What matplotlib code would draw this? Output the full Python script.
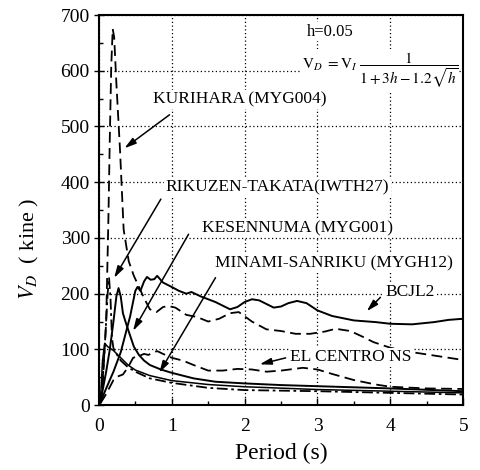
import numpy as np
import matplotlib.pyplot as plt

plt.rcParams['font.family'] = ['Liberation Serif', 'DejaVu Serif']
plt.rcParams['mathtext.fontset'] = 'stix'

# Velocity spectra (period s, V_D kine)

kurihara_t = [0.02, 0.05, 0.1, 0.13, 0.15, 0.17, 0.19, 0.21, 0.24, 0.29, 0.34, 0.41, 0.48,
              0.54, 0.62, 0.7, 0.79, 0.88, 0.95, 1.05, 1.2, 1.35, 1.5, 1.65, 1.8, 1.92,
              2.1, 2.3, 2.5, 2.7, 2.9, 3.1, 3.25, 3.45, 3.6, 3.77, 4.0, 4.3, 4.6, 5.0]
kurihara_v = [5, 30, 150, 330, 480, 610, 675, 660, 578, 458, 315, 258, 232,
              215, 192, 172, 167, 176, 178, 175, 162, 158, 150, 155, 165, 167,
              150, 136, 133, 128, 128, 132, 137, 133, 124, 113, 103, 95, 89, 81]

rikuzen_t = [0.02, 0.06, 0.1, 0.12, 0.14, 0.16, 0.18, 0.2, 0.25, 0.3, 0.4, 0.5, 0.7,
             1.0, 1.5, 2.0, 2.5, 3.0, 4.0, 5.0]
rikuzen_v = [5, 60, 150, 200, 228, 190, 120, 102, 90, 80, 68, 60, 48,
             40, 31, 27, 26, 25, 22, 19]

kesennuma_t = [0.02, 0.1, 0.15, 0.2, 0.24, 0.27, 0.3, 0.33, 0.36, 0.41, 0.48, 0.55, 0.62,
               0.7, 0.85, 1.0, 1.3, 1.6, 2.0, 2.5, 3.0, 4.0, 5.0]
kesennuma_v = [5, 60, 100, 150, 195, 210, 195, 165, 152, 132, 105, 90, 80,
               72, 64, 58, 48, 42, 39, 36, 34, 30, 25]

minami_t = [0.02, 0.05, 0.08, 0.12, 0.2, 0.3, 0.4, 0.5, 0.7, 1.0, 1.5, 2.0, 3.0, 4.0, 5.0]
minami_v = [5, 80, 111, 105, 98, 85, 72, 63, 53, 44, 37, 33, 28, 25, 22]

bcjl2_t = [0.02, 0.1, 0.2, 0.3, 0.36, 0.43, 0.5, 0.53, 0.57, 0.62, 0.66, 0.71, 0.76,
           0.8, 0.88, 1.0, 1.1, 1.2, 1.27, 1.4, 1.6, 1.8, 1.9, 2.0, 2.1, 2.2, 2.4,
           2.5, 2.6, 2.72, 2.85, 3.0, 3.2, 3.5, 3.8, 4.0, 4.3, 4.6, 4.8, 5.0]
bcjl2_v = [5, 30, 60, 95, 125, 160, 205, 212, 205, 222, 230, 225, 226,
           232, 220, 212, 205, 200, 203, 195, 185, 172, 176, 185, 190, 188, 175,
           177, 183, 187, 183, 170, 160, 152, 149, 146, 145, 149, 153, 155]

elcentro_t = [0.02, 0.1, 0.2, 0.27, 0.33, 0.4, 0.47, 0.55, 0.62, 0.68, 0.73, 0.8, 0.88,
              1.0, 1.15, 1.3, 1.5, 1.7, 1.9, 2.1, 2.3, 2.5, 2.8, 3.0, 3.2, 3.5, 3.8,
              4.0, 4.5, 5.0]
elcentro_v = [3, 20, 45, 52, 55, 68, 85, 88, 92, 90, 94, 97, 92,
              85, 80, 72, 62, 62, 65, 64, 60, 62, 67, 64, 56, 45, 37,
              33, 30, 29]

fig = plt.figure(figsize=(4.8, 4.7), dpi=100)
ax = fig.add_axes([0.206, 0.138, 0.759, 0.830])

ax.plot(kurihara_t, kurihara_v, color='k', lw=1.3, ls=(0, (6, 3)))
ax.plot(rikuzen_t, rikuzen_v, color='k', lw=1.3, ls=(0, (6, 2, 1.5, 2)))
ax.plot(kesennuma_t, kesennuma_v, color='k', lw=1.4)
ax.plot(minami_t, minami_v, color='k', lw=1.1)
ax.plot(bcjl2_t, bcjl2_v, color='k', lw=1.4)
ax.plot(elcentro_t, elcentro_v, color='k', lw=1.3, ls=(0, (6, 3)))

ax.set_xlim(0, 5)
ax.set_ylim(0, 700)
ax.set_xticks(np.arange(0, 6, 1))
ax.set_xticks(np.arange(0, 5.01, 0.5), minor=True)
ax.set_yticks(np.arange(0, 701, 100))
ax.set_yticks(np.arange(0, 701, 50), minor=True)
ax.tick_params(which='both', direction='in', labelsize=14, width=1)
ax.tick_params(which='major', length=5)
ax.tick_params(which='minor', length=3)
ax.tick_params(axis='y', which='major', direction='inout', length=7, pad=3)
ax.tick_params(axis='x', pad=9)
ax.grid(True, which='major', color='k', lw=0.9, ls=(0, (1, 2)))
for s in ax.spines.values():
    s.set_linewidth(1.5)

ax.set_xlabel('Period (s)', fontsize=17, labelpad=6)
ax.set_ylabel(r'$V_D$  ( kine )', fontsize=16)
ax.yaxis.set_label_coords(-0.16, 0.40)

box = dict(facecolor='white', edgecolor='none', pad=1)
fs = 12.5
arw = dict(arrowstyle='-|>,head_width=0.2,head_length=0.7', color='k', lw=1.1)

# labels and arrows
ax.text(1.94, 548, 'KURIHARA (MYG004)', fontsize=fs, ha='center', va='center', bbox=box)
ax.annotate('', xy=(0.32, 458), xytext=(1.0, 524), arrowprops=arw)

ax.text(2.45, 390, 'RIKUZEN-TAKATA(IWTH27)', fontsize=fs, ha='center', va='center', bbox=box)
ax.annotate('', xy=(0.19, 224), xytext=(0.87, 374), arrowprops=arw)

ax.text(2.72, 318, 'KESENNUMA (MYG001)', fontsize=fs, ha='center', va='center', bbox=box)
ax.annotate('', xy=(0.45, 129), xytext=(1.25, 311), arrowprops=arw)

ax.text(3.23, 255, 'MINAMI-SANRIKU (MYGH12)', fontsize=fs, ha='center', va='center', bbox=box)
ax.annotate('', xy=(0.81, 54), xytext=(1.62, 233), arrowprops=arw)

ax.text(4.27, 203, 'BCJL2', fontsize=fs, ha='center', va='center', bbox=box)
ax.annotate('', xy=(3.65, 165), xytext=(3.89, 197), arrowprops=arw)

ax.text(3.46, 86, 'EL CENTRO NS', fontsize=fs, ha='center', va='center', bbox=box)
ax.annotate('', xy=(2.17, 72), xytext=(2.6, 86), arrowprops=arw)

# damping formula
ax.text(3.17, 670, 'h=0.05', fontsize=12, ha='center', va='center', bbox=box)
ax.text(4.93, 603, r'$\mathrm{V}_D\ =\mathrm{V}_I\ \dfrac{1}{1+3h-1.2\sqrt{h}}$',
        fontsize=11, ha='right', va='baseline', bbox=box)

fig.savefig('out.png', dpi=100)
